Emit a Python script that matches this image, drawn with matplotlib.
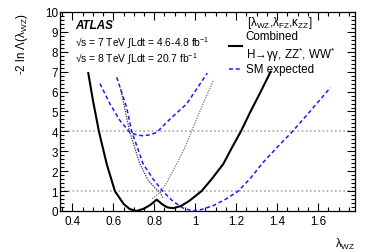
import matplotlib
matplotlib.use("Agg")
import matplotlib.pyplot as plt
from matplotlib.ticker import MultipleLocator

plt.rcParams['font.family'] = ['Liberation Sans', 'DejaVu Sans']
plt.rcParams['mathtext.fontset'] = 'custom'
plt.rcParams['mathtext.rm'] = 'Liberation Sans'
plt.rcParams['mathtext.it'] = 'Liberation Sans:italic'
plt.rcParams['mathtext.bf'] = 'Liberation Sans:bold'

# Observed combined
obs_x = [0.478, 0.50, 0.53, 0.568, 0.608, 0.65, 0.68, 0.714, 0.75, 0.78, 0.812,
         0.84, 0.865, 0.893, 0.93, 0.97, 1.031, 1.08, 1.137, 1.18, 1.223, 1.27, 1.32, 1.368]
obs_y = [6.93, 5.6, 4.0, 2.36, 1.0, 0.36, 0.1, 0.0, 0.12, 0.3, 0.57,
         0.33, 0.18, 0.14, 0.25, 0.5, 1.0, 1.6, 2.36, 3.2, 4.0, 5.0, 6.0, 7.0]

# SM expected, solution 1
exp1_x = [0.535, 0.584, 0.633, 0.681, 0.715, 0.746, 0.78, 0.812, 0.877, 0.958, 1.059]
exp1_y = [6.4, 5.38, 4.54, 3.95, 3.82, 3.78, 3.83, 3.95, 4.62, 5.38, 6.93]

# SM expected, solution 2
exp2_x = [0.617, 0.665, 0.69, 0.746, 0.795, 0.841, 0.89, 0.942, 0.99, 1.023, 1.088,
          1.15, 1.21, 1.27, 1.332, 1.40, 1.475, 1.56, 1.66]
exp2_y = [6.72, 5.21, 4.0, 2.36, 1.6, 1.0, 0.5, 0.14, 0.0, 0.05, 0.27,
          0.6, 1.0, 1.65, 2.45, 3.2, 4.0, 5.0, 6.2]

# Individual branches (dotted)
br1_x = [0.636, 0.66, 0.681, 0.73, 0.77, 0.80, 0.828, 0.845]
br1_y = [6.13, 4.95, 3.95, 2.36, 1.55, 1.2, 0.94, 0.62]
br2_x = [0.79, 0.81, 0.828, 0.86, 0.909, 0.95, 0.982, 1.03, 1.088]
br2_y = [0.62, 0.78, 0.94, 1.4, 2.36, 3.2, 4.0, 5.2, 6.55]

ref_levels = [1, 4]

W, H = 374, 253
fig = plt.figure(figsize=(W / 100, H / 100), dpi=100)
ax = fig.add_axes([60 / W, 1 - 212 / H, 295 / W, 199 / H])

for lv in ref_levels:
    ax.axhline(lv, color='#aaaaaa', lw=1.2, ls=(0, (1, 1.5)), zorder=1)

ax.plot(br1_x, br1_y, color='#333333', lw=0.9, ls=(0, (1, 1)), zorder=2)
ax.plot(br2_x, br2_y, color='#777777', lw=0.9, ls=(0, (1, 1)), zorder=2)
l_exp, = ax.plot(exp1_x, exp1_y, color='#1a1aff', lw=1.1, ls=(0, (2.6, 1.8)), zorder=3)
ax.plot(exp2_x, exp2_y, color='#1a1aff', lw=1.1, ls=(0, (2.6, 1.8)), zorder=3)
l_obs, = ax.plot(obs_x, obs_y, color='black', lw=1.5, zorder=4)

ax.set_xlim(0.34, 1.78)
ax.set_ylim(0, 10)
ax.xaxis.set_major_locator(MultipleLocator(0.2))
ax.xaxis.set_minor_locator(MultipleLocator(0.05))
ax.yaxis.set_major_locator(MultipleLocator(1))
ax.yaxis.set_minor_locator(MultipleLocator(0.2))
ax.set_xticks([0.4, 0.6, 0.8, 1.0, 1.2, 1.4, 1.6])
ax.set_xticklabels(['0.4', '0.6', '0.8', '1', '1.2', '1.4', '1.6'])
ax.tick_params(which='both', direction='in', top=True, right=True, labelsize=8.4, width=0.8)
ax.tick_params(which='major', length=6)
ax.tick_params(which='minor', length=3)
ax.tick_params(axis='y', pad=1.5)
ax.tick_params(axis='x', pad=3)
for s in ax.spines.values():
    s.set_linewidth(0.9)

fig.text(22 / W, 1 - 13 / H, '-2 ln Λ(λ$_{\\mathrm{WZ}}$)', rotation=90,
         ha='center', va='top', fontsize=8.4)
fig.text(355 / W, 1 - 244 / H, 'λ$_{\\mathrm{WZ}}$', ha='right', va='center', fontsize=8.4)

fig.text(75 / W, 1 - 25.7 / H, 'ATLAS', fontsize=8.4, fontweight='bold', fontstyle='italic',
         ha='left', va='center')
fig.text(75 / W, 1 - 43 / H, '√s = 7 TeV ∫Ldt = 4.6-4.8 fb$^{-1}$', fontsize=7.4,
         ha='left', va='center')
fig.text(75 / W, 1 - 59.5 / H, '√s = 8 TeV ∫Ldt = 20.7 fb$^{-1}$', fontsize=7.4,
         ha='left', va='center')

fig.text(246.7 / W, 1 - 23 / H, '[λ$_{\\mathrm{WZ}}$,λ$_{\\mathrm{FZ}}$,κ$_{\\mathrm{ZZ}}$]',
         fontsize=8.4, ha='left', va='center')

leg = ax.legend([l_obs, l_exp], ['Combined\nH→γγ, ZZ$^{*}$, WW$^{*}$', 'SM expected'],
                loc='upper left', bbox_to_anchor=((229 - 60) / 295, 1 - (31 - 13) / 199),
                frameon=False, fontsize=8.4, handlelength=1.1, handletextpad=0.33,
                labelspacing=0.0, borderpad=0, borderaxespad=0)
for col in leg._legend_handle_box.get_children():
    for hp in col.get_children():
        hp.align = 'center'

fig.savefig('out.png', dpi=100)
